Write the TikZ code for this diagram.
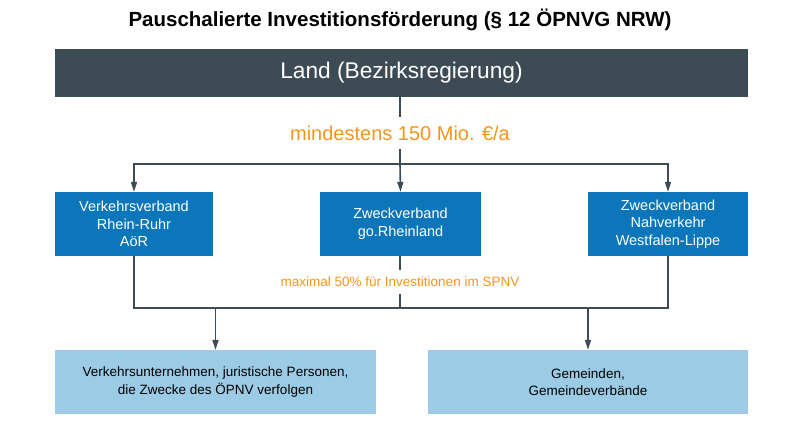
\documentclass[tikz,border=0pt]{standalone}
\usepackage{fontspec}
\setmainfont{Liberation Sans}
\usetikzlibrary{arrows.meta}
\definecolor{darkbox}{HTML}{3D4B55}
\definecolor{bluebox}{HTML}{0B76BA}
\definecolor{lightbox}{HTML}{9CCBE6}
\definecolor{orangetxt}{HTML}{F7941D}
\definecolor{linecol}{HTML}{3D4B55}
\tikzset{
  titletxt/.style={font=\bfseries\fontsize{20.5}{24}\selectfont, text=black},
  landbox/.style={fill=darkbox, text=white, minimum width=693pt, minimum height=48pt, inner sep=0pt, font=\fontsize{22.7}{26}\selectfont},
  orgbox/.style={fill=bluebox, text=white, minimum height=64pt, inner sep=0pt, align=center, font=\fontsize{14.5}{17.7}\selectfont},
  recbox/.style={fill=lightbox, text=black, minimum height=64pt, inner sep=0pt, align=center, font=\fontsize{13.5}{17.2}\selectfont},
  biglabel/.style={text=orangetxt, inner sep=0pt, font=\fontsize{20}{24}\selectfont},
  smalllabel/.style={text=orangetxt, inner sep=0pt, font=\fontsize{13.5}{16}\selectfont},
  conn/.style={draw=linecol, line width=1.6pt},
  arr/.style={conn, -{Triangle[length=10pt,width=6pt]}}
}
\begin{document}
\begin{tikzpicture}[x=1pt,y=-1pt]
\useasboundingbox (0,0) rectangle (800,426);
\node[titletxt] (title) at (400,20) {Pauschalierte Investitionsförderung (§ 12 ÖPNVG NRW)};
\node[landbox] (land) at (401.5,73) {Land (Bezirksregierung)};
\node[biglabel, minimum height=32pt] (lbl1) at (400,133) {mindestens 150 Mio. €/a};
\coordinate (j1) at (400,164);
\node[orgbox, minimum width=158pt] (b1) at (134,224) {Verkehrsverband\\Rhein-Ruhr\\AöR};
\node[orgbox, minimum width=161pt] (b2) at (400.5,224) {Zweckverband\\go.Rheinland};
\node[orgbox, minimum width=160pt] (b3) at (668,224) {Zweckverband\\Nahverkehr\\Westfalen-Lippe};
\node[smalllabel, minimum height=24pt] (lbl2) at (400,282) {maximal 50\% für Investitionen im SPNV};
\coordinate (j2) at (400,308);
\node[recbox, minimum width=321pt] (c1) at (215.5,382) {Verkehrsunternehmen, juristische Personen,\\die Zwecke des ÖPNV verfolgen};
\node[recbox, minimum width=320pt] (c2) at (588,382) {Gemeinden,\\Gemeindeverbände};
\draw[conn] (lbl1.north |- land.south) -- (lbl1.north);
\draw[conn] (lbl1.south) -- (j1);
\draw[arr] (j1) -| (b1.north);
\draw[arr] (j1) -| (b3.north);
\draw[arr] (j1) -- (b2.north);
\draw[conn] (b1.south) |- (j2);
\draw[conn] (b3.south) |- (j2);
\draw[conn] (lbl2.north |- b2.south) -- (lbl2.north);
\draw[conn] (lbl2.south) -- (j2);
\draw[arr] (c1.north |- j2) -- (c1.north);
\draw[arr] (c2.north |- j2) -- (c2.north);
\end{tikzpicture}
\end{document}
